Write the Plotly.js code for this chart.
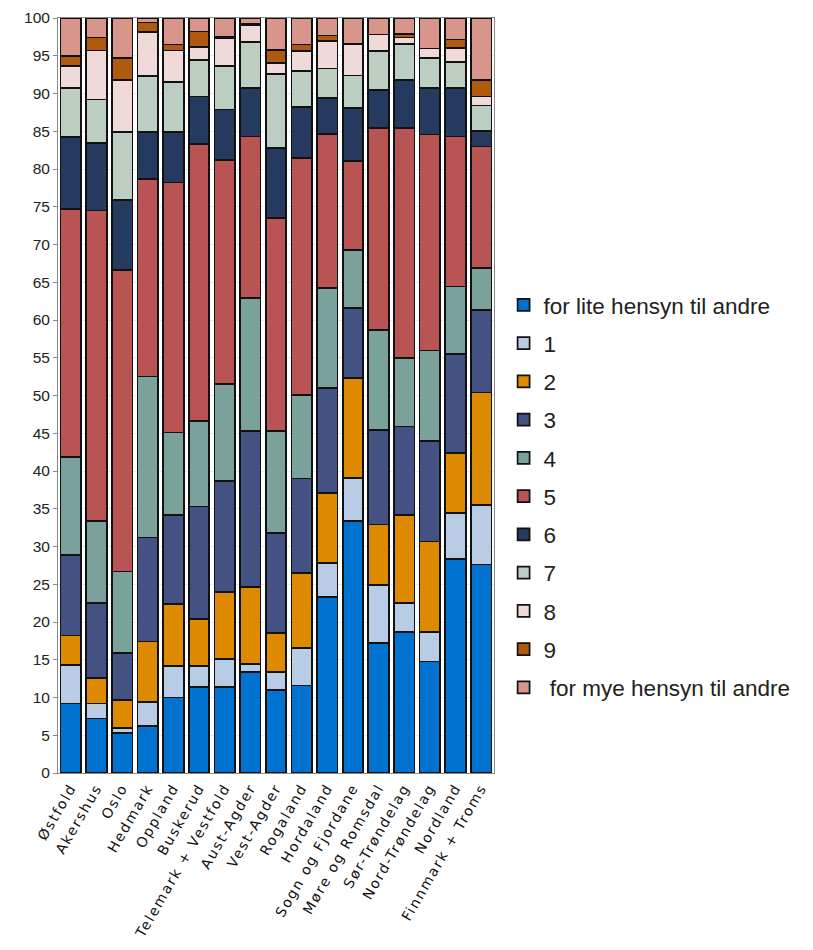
<!DOCTYPE html>
<html><head><meta charset="utf-8">
<script src="https://cdn.plot.ly/plotly-3.0.1.min.js"></script>
<style>body{margin:0;background:#fff}#c{width:813px;height:950px}
.xtick text{letter-spacing:1.8px}</style>
</head><body><div id="c"></div>
<script>
var categories = ["Østfold","Akershus","Oslo","Hedmark","Oppland","Buskerud","Telemark + Vestfold","Aust-Agder","Vest-Agder","Rogaland","Hordaland","Sogn og Fjordane","Møre og Romsdal","Sør-Trøndelag","Nord-Trøndelag","Nordland","Finnmark + Troms"];
var seriesNames = ["for lite hensyn til andre","1","2","3","4","5","6","7","8","9"," for mye hensyn til andre"];
var sLite = [9.2,7.2,5.3,6.2,10.0,11.35,11.35,13.4,11.0,11.6,23.3,33.4,17.2,18.7,14.75,28.3,27.6];
var s1 = [5.1,2.0,0.7,3.25,4.2,2.85,3.75,1.0,2.4,5.0,4.5,5.7,7.7,3.8,3.95,6.1,7.9];
var s2 = [3.9,3.4,3.7,7.95,8.2,6.2,8.9,10.2,5.1,9.9,9.3,13.2,8.0,11.7,11.95,8.0,14.9];
var s3 = [10.7,9.9,6.2,13.8,11.8,14.9,14.7,20.7,13.3,12.5,13.9,9.3,12.5,11.7,13.35,13.1,10.9];
var s4 = [13.0,10.9,10.8,21.3,10.9,11.35,12.8,17.6,13.5,11.1,13.2,7.7,13.3,9.05,11.97,8.95,5.6];
var s5 = [32.8,41.1,39.9,26.2,33.1,36.65,29.7,21.4,28.2,31.4,20.4,11.8,26.7,30.45,28.6,19.85,16.1];
var s6 = [9.5,8.9,9.3,6.2,6.7,6.3,6.7,6.45,9.3,6.7,4.8,7.0,5.1,6.4,6.15,6.45,2.0];
var s7 = [6.5,5.8,9.0,7.4,6.6,4.8,5.7,6.05,9.8,4.75,3.9,4.3,5.1,4.8,3.95,3.45,3.4];
var s8 = [2.9,6.5,6.9,5.8,4.2,1.8,3.7,2.2,1.4,2.65,3.7,4.2,2.2,0.8,1.3,1.8,1.2];
var s9 = [1.4,1.7,2.9,1.3,0.8,2.0,0.2,0.2,1.8,0.9,0.7,0,0,0.5,0,1.15,2.2];
var sMye = [5.0,2.6,5.3,0.6,3.5,1.8,2.5,0.8,4.2,3.5,2.3,3.4,2.2,2.1,4.0,2.85,8.2];
var yTicks = [0,5,10,15,20,25,30,35,40,45,50,55,60,65,70,75,80,85,90,95,100];

var allSeries = [sLite,s1,s2,s3,s4,s5,s6,s7,s8,s9,sMye];
var colors = ["#0072d0","#b8cce6","#dd8a00","#435282","#7aa29a","#b85454","#26395e","#bccec2","#f0d9d9","#b05a10","#d8958c"];
var traces = allSeries.map(function(v,i){
  return {type:"bar", name:seriesNames[i], x:categories, y:v, legendgroup:"g"+i,
    marker:{color:colors[i], line:{color:"#111", width:1.7}}, hoverinfo:"y+name"};
});
var layout = {
  width:813, height:950, barmode:"stack", bargap:0.2,
  margin:{l:58, r:319, t:18, b:177},
  paper_bgcolor:"#fff", plot_bgcolor:"#fff",
  font:{family:"Liberation Sans, Arial, sans-serif", color:"#222"},
  xaxis:{tickangle:-60, tickfont:{family:"DejaVu Sans, sans-serif", size:14, color:"#111"},
    showline:true, linecolor:"#888", mirror:true, ticks:"", automargin:false},
  yaxis:{range:[0,100], tickvals:yTicks, ticktext:yTicks.map(String), tickfont:{size:15.5, color:"#222"},
    showgrid:true, gridcolor:"#e6eaf0", showline:true, linecolor:"#888", mirror:true,
    ticks:"outside", ticklen:4, tickcolor:"#888", zeroline:false, automargin:false},
  legend:{x:1.022, xanchor:"left", y:0.3665, yanchor:"middle", traceorder:"grouped",
    tracegroupgap:6, font:{size:22.5, color:"#222"}, bgcolor:"rgba(0,0,0,0)"},
  showlegend:true
};
Plotly.newPlot("c", traces, layout, {displayModeBar:false, staticPlot:true});
</script></body></html>
